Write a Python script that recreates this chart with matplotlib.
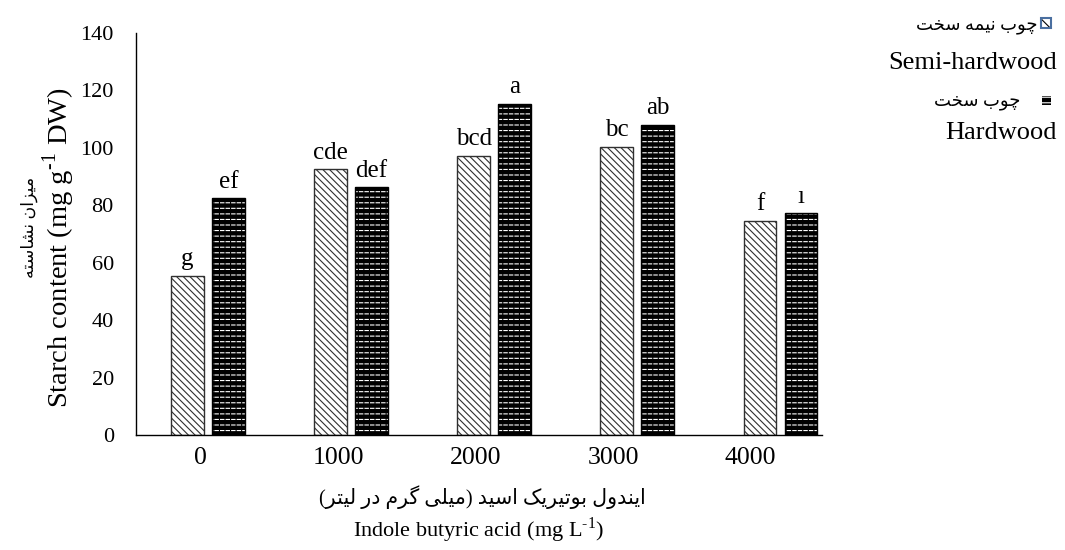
import matplotlib
matplotlib.use('Agg')
import matplotlib.pyplot as plt
import numpy as np
from matplotlib.patches import Rectangle

# data
iba_labels = ['0', '1000', '2000', '3000', '4000']
semi_hardwood = [55.5, 92.5, 97.2, 100.4, 74.6]
hardwood = [82.5, 86.3, 115.3, 108.0, 77.2]
semi_letters = ['g', 'cde', 'bcd', 'bc', 'f']
hard_letters = ['ef', 'def', 'a', 'ab', 'ı']

# minimal Persian shaping: presentation forms (iso, fin, ini, med), then visual order
FORMS = {
    'ا': ('\uFE8D', '\uFE8E', None, None),
    'ب': ('\uFE8F', '\uFE90', '\uFE91', '\uFE92'),
    'ت': ('\uFE95', '\uFE96', '\uFE97', '\uFE98'),
    'خ': ('\uFEA5', '\uFEA6', '\uFEA7', '\uFEA8'),
    'د': ('\uFEA9', '\uFEAA', None, None),
    'ر': ('\uFEAD', '\uFEAE', None, None),
    'ز': ('\uFEAF', '\uFEB0', None, None),
    'س': ('\uFEB1', '\uFEB2', '\uFEB3', '\uFEB4'),
    'ش': ('\uFEB5', '\uFEB6', '\uFEB7', '\uFEB8'),
    'ل': ('\uFEDD', '\uFEDE', '\uFEDF', '\uFEE0'),
    'م': ('\uFEE1', '\uFEE2', '\uFEE3', '\uFEE4'),
    'ن': ('\uFEE5', '\uFEE6', '\uFEE7', '\uFEE8'),
    'ه': ('\uFEE9', '\uFEEA', '\uFEEB', '\uFEEC'),
    'و': ('\uFEED', '\uFEEE', None, None),
    '\u06CC': ('\uFBFC', '\uFBFD', '\uFBFE', '\uFBFF'),
    '\u064A': ('\uFBFC', '\uFBFD', '\uFBFE', '\uFBFF'),
    '\u0686': ('\uFB7A', '\uFB7B', '\uFB7C', '\uFB7D'),
    '\u06AF': ('\uFB92', '\uFB93', '\uFB94', '\uFB95'),
    '\u06A9': ('\uFB8E', '\uFB8F', '\uFB90', '\uFB91'),
    '\u0643': ('\uFB8E', '\uFB8F', '\uFB90', '\uFB91'),
}
MIRROR = {'(': ')', ')': '('}


def fa(s):
    out = []
    for i, c in enumerate(s):
        f = FORMS.get(c)
        if f is None:
            out.append(MIRROR.get(c, c))
            continue
        prev = FORMS.get(s[i - 1]) if i > 0 else None
        nxt = FORMS.get(s[i + 1]) if i < len(s) - 1 else None
        jp = prev is not None and prev[2] is not None
        jn = nxt is not None and f[2] is not None
        if jp and jn:
            out.append(f[3])
        elif jp:
            out.append(f[1])
        elif jn:
            out.append(f[2])
        else:
            out.append(f[0])
    return ''.join(reversed(out))


SERIF = ['Liberation Serif', 'DejaVu Sans']
plt.rcParams['font.family'] = SERIF
plt.rcParams['mathtext.fontset'] = 'custom'
plt.rcParams['mathtext.rm'] = 'Liberation Serif'
plt.rcParams['hatch.linewidth'] = 0.8

fig = plt.figure(figsize=(10.65, 5.5), dpi=100)
ax = fig.add_axes([136 / 1065, 1 - 435 / 550, (822 - 136) / 1065, (435 - 33) / 550])

x = np.arange(len(iba_labels))
w = 0.23
off = 0.143
b1 = ax.bar(x - off, semi_hardwood, w, facecolor='white', edgecolor='#303030',
            hatch='\\\\\\\\\\', linewidth=1.0)
# black bars: white rows of lines, chopped into dashes by black verticals
b2 = ax.bar(x + off, hardwood, w, facecolor='black', edgecolor='white',
            hatch='---', linewidth=0)
ax.bar(x + off, hardwood, w, facecolor='none', edgecolor='black',
       hatch='|||', linewidth=1.0)
ax.bar_label(b1, labels=semi_letters, padding=4, fontsize=18)
ax.bar_label(b2, labels=hard_letters, padding=4, fontsize=18)

ax.set_xlim(-0.503, 4.29)
ax.set_ylim(0, 140)
ax.set_yticks(range(0, 141, 20))
ax.set_xticks(x * 0.96 - 0.05)
ax.set_xticklabels(iba_labels)
ax.tick_params(axis='both', length=0)
ax.tick_params(axis='y', pad=16, labelsize=16)
ax.tick_params(axis='x', pad=9, labelsize=18.5)
for s in ['top', 'right']:
    ax.spines[s].set_visible(False)
for s in ['left', 'bottom']:
    ax.spines[s].set_linewidth(1.0)

# axis titles (English + Persian)
fig.text(59 / 1065, 1 - 248 / 550, 'Starch content (mg g$^{\\text{-1}}$ DW)', rotation=90,
         ha='center', va='center', fontsize=20.5)
fig.text(29 / 1065, 1 - 227 / 550, fa('میزان نشاسته'), rotation=90,
         ha='center', va='center', fontsize=12.5, family=SERIF)
fig.text(482 / 1065, 1 - 497 / 550, fa('ایندول بوتیریک اسید (میلی گرم در لیتر)'),
         ha='center', va='center', fontsize=14.8, family=SERIF)
fig.text(478 / 1065, 1 - 530 / 550, 'Indole butyric acid (mg L$^{\\text{-1}}$)',
         ha='center', va='center', fontsize=16)

# legend built by hand (swatch after the Persian name)
fig.text(1037 / 1065, 1 - 25 / 550, fa('چوب نیمه سخت'), ha='right', va='center',
         fontsize=13, family=SERIF)
fig.text(1057 / 1065, 1 - 63 / 550, 'Semi-hardwood', ha='right', va='center', fontsize=19)
fig.text(1020 / 1065, 1 - 102 / 550, fa('چوب سخت'), ha='right', va='center',
         fontsize=13, family=SERIF)
fig.text(1057 / 1065, 1 - 133 / 550, 'Hardwood', ha='right', va='center', fontsize=19)
fig.add_artist(Rectangle((1041 / 1065, 1 - 28 / 550), 10 / 1065, 10 / 550,
                         transform=fig.transFigure, facecolor='white',
                         edgecolor='black', hatch='\\\\\\', linewidth=0))
fig.add_artist(Rectangle((1041 / 1065, 1 - 28 / 550), 10 / 1065, 10 / 550,
                         transform=fig.transFigure, facecolor='none',
                         edgecolor='#4a6fa0', linewidth=1.5))
fig.add_artist(Rectangle((1042 / 1065, 1 - 105 / 550), 9 / 1065, 9 / 550,
                         transform=fig.transFigure, facecolor='black',
                         edgecolor='white', hatch='---', linewidth=0))

fig.savefig('out.png', dpi=100)
